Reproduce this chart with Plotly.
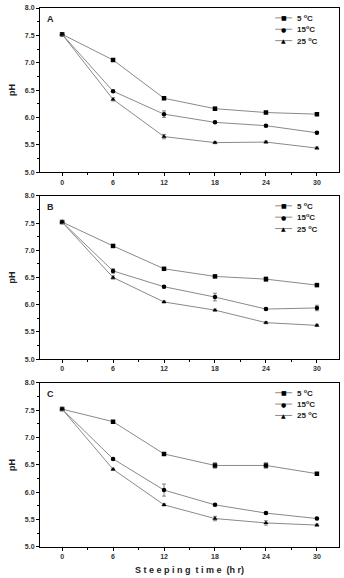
import plotly.graph_objects as go

time = [0, 6, 12, 18, 24, 30]
x_ticktext = ["0", "6", "12", "18", "24", "30"]
y_tickvals = [5.0, 5.5, 6.0, 6.5, 7.0, 7.5, 8.0]
y_ticktext = ["5.0", "5.5", "6.0", "6.5", "7.0", "7.5", "8.0"]
series_names = ["5 <sup>o</sup>C", "15<sup>o</sup>C", "25 <sup>o</sup>C"]
symbols = ["square", "circle", "triangle-up"]
legend_glyphs = ["■", "●", "▲"]

A_5 = [7.52, 7.05, 6.35, 6.16, 6.09, 6.06]
A_15 = [7.52, 6.48, 6.06, 5.91, 5.85, 5.72]
A_25 = [7.52, 6.33, 5.65, 5.54, 5.55, 5.44]
A_5_err = [0.02, 0.02, 0.02, 0.03, 0.02, 0.02]
A_15_err = [0.02, 0.02, 0.06, 0.02, 0.02, 0.02]
A_25_err = [0.02, 0.03, 0.04, 0.02, 0.02, 0.02]

B_5 = [7.52, 7.08, 6.66, 6.52, 6.47, 6.36]
B_15 = [7.52, 6.62, 6.33, 6.14, 5.92, 5.94]
B_25 = [7.52, 6.50, 6.05, 5.90, 5.67, 5.62]
B_5_err = [0.02, 0.02, 0.02, 0.02, 0.04, 0.02]
B_15_err = [0.02, 0.04, 0.02, 0.07, 0.02, 0.05]
B_25_err = [0.02, 0.03, 0.02, 0.02, 0.02, 0.02]

C_5 = [7.52, 7.29, 6.70, 6.49, 6.49, 6.34]
C_15 = [7.52, 6.61, 6.04, 5.77, 5.62, 5.52]
C_25 = [7.52, 6.42, 5.77, 5.52, 5.44, 5.40]
C_5_err = [0.02, 0.02, 0.02, 0.05, 0.05, 0.02]
C_15_err = [0.02, 0.02, 0.11, 0.02, 0.02, 0.02]
C_25_err = [0.02, 0.02, 0.02, 0.04, 0.04, 0.02]

panels = [
    ("A", [A_5, A_15, A_25], [A_5_err, A_15_err, A_25_err]),
    ("B", [B_5, B_15, B_25], [B_5_err, B_15_err, B_25_err]),
    ("C", [C_5, C_15, C_25], [C_5_err, C_15_err, C_25_err]),
]

W, H = 344, 578
ml, mr, mt, mb = 40, 4, 6, 27
pw = W - ml - mr
ph = H - mt - mb
def py(p):
    return (H - mb - p) / ph
def px(p):
    return (p - ml) / pw
tops = [6, 196, 385]
bots = [172, 361, 551]

FONT = "Liberation Sans, Arial, DejaVu Sans"
fig = go.Figure()
tickfont = dict(family=FONT, size=7, color="#333")
for i, (label, vals, errs) in enumerate(panels):
    n = "" if i == 0 else str(i + 1)
    for j in range(3):
        fig.add_trace(go.Scatter(
            x=time, y=vals[j], mode="lines+markers", name=series_names[j],
            line=dict(color="#8a8a8a", width=1),
            marker=dict(symbol=symbols[j], size=4.5, color="black"),
            error_y=dict(type="data", array=errs[j], color="#666", thickness=0.8, width=2),
            xaxis="x" + n, yaxis="y" + n, showlegend=False,
        ))
    xa = dict(range=[-2.6, 32.6], tickvals=time, ticktext=["<b>" + t + "</b>" for t in x_ticktext],
              ticks="outside", ticklen=3,
              tickcolor="black", showline=True, linecolor="black", linewidth=1,
              mirror=True, showgrid=False, zeroline=False, tickfont=tickfont,
              minor=dict(tickvals=[3, 9, 15, 21, 27], ticks="outside", ticklen=2, tickcolor="black"),
              anchor="y" + n)
    ya = dict(range=[5.0, 8.0], domain=[py(bots[i]), py(tops[i])],
              tickvals=y_tickvals, ticktext=["<b>" + t + "</b>" for t in y_ticktext],
              ticks="outside", ticklen=3, tickcolor="black",
              showline=True, linecolor="black", linewidth=1, mirror=True,
              showgrid=False, zeroline=False, tickfont=tickfont,
              minor=dict(dtick=0.25, ticks="outside", ticklen=2, tickcolor="black"),
              title=dict(text="<b>pH</b>", font=dict(family=FONT, size=9, color="#222"), standoff=7),
              anchor="x" + n)
    if i == 2:
        xa["title"] = dict(text="<b>S t e e p i n g  t i m e  (h r)</b>",
                           font=dict(family=FONT, size=9, color="#222"), standoff=7)
    fig.update_layout({"xaxis" + n: xa, "yaxis" + n: ya})
    fig.add_annotation(text="<b>" + label + "</b>", xref="paper", yref="paper",
                       x=px(45), y=py(tops[i] + 4), xanchor="left", yanchor="top", showarrow=False,
                       font=dict(family=FONT, size=9, color="#222"))
    # legend drawn as shapes + annotations
    for j in range(3):
        ry = tops[i] + 10 + j * 11.5
        fig.add_shape(type="line", xref="paper", yref="paper",
                      x0=px(276), x1=px(293), y0=py(ry), y1=py(ry),
                      line=dict(color="#8a8a8a", width=1))
        fig.add_annotation(text=legend_glyphs[j], xref="paper", yref="paper",
                           x=px(284.5), y=py(ry), xanchor="center", yanchor="middle",
                           showarrow=False, font=dict(family="DejaVu Sans", size=6, color="black"))
        fig.add_annotation(text="<b>" + series_names[j] + "</b>", xref="paper", yref="paper",
                           x=px(296), y=py(ry), xanchor="left", yanchor="middle",
                           showarrow=False, font=dict(family=FONT, size=8, color="#222"))

fig.update_layout(width=W, height=H, margin=dict(l=ml, r=mr, t=mt, b=mb),
                  paper_bgcolor="white", plot_bgcolor="white")
fig.write_html("out.html")
